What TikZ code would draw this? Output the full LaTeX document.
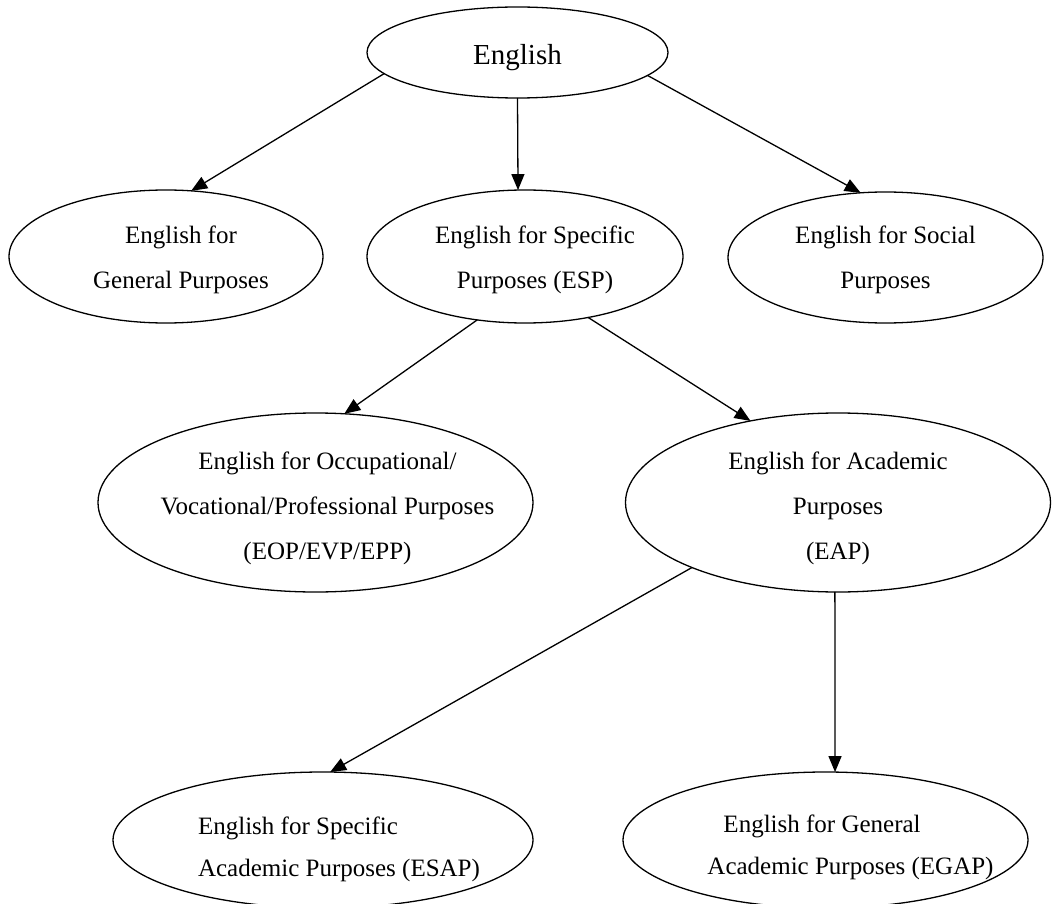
\documentclass[tikz,border=0pt]{standalone}
\usepackage{fontspec}
\setmainfont{Liberation Serif}
\usetikzlibrary{arrows.meta,shapes.geometric}
% #1 column type, #2 horizontal pad (2x shift), #3 raise, #4 lines
\newcommand\inside[4][c]{\makebox[0pt]{\hspace*{#2}\raisebox{#3}[0pt][0pt]{\begin{tabular}{@{}#1@{}}#4\end{tabular}}}}
\begin{document}
\begin{tikzpicture}[x=1pt,y=1pt,line width=1.3pt,
  ell/.style={ellipse,draw,inner sep=0pt,outer sep=0pt,font=\fontsize{25}{45}\selectfont},
  conn/.style={-{Triangle[length=16pt,width=13pt]}}]
\useasboundingbox (0,0) rectangle (1052,-904);
\node[ell,minimum width=301pt,minimum height=91pt,font=\fontsize{29}{34}\selectfont] (eng) at (517.5,-52.5) {\inside{0pt}{-11.5pt}{English}};
\node[ell,minimum width=314pt,minimum height=133pt] (gen) at (166,-256.5) {\inside{30pt}{-7pt}{English for\\General Purposes}};
\node[ell,minimum width=316pt,minimum height=133pt] (esp) at (525,-256.5) {\inside{20pt}{-7pt}{English for Specific\\Purposes (ESP)}};
\node[ell,minimum width=315pt,minimum height=131pt] (soc) at (885.5,-257.5) {\inside{0pt}{-6pt}{English for Social\\Purposes}};
\node[ell,minimum width=435pt,minimum height=179pt] (eop) at (315.5,-502.5) {\inside{24pt}{-9.5pt}{English for Occupational/\\Vocational/Professional Purposes\\(EOP/EVP/EPP)}};
\node[ell,minimum width=425pt,minimum height=179pt] (eap) at (838,-502.5) {\inside{0pt}{-9.5pt}{English for Academic\\Purposes\\(EAP)}};
\node[ell,minimum width=420pt,minimum height=136pt,font=\fontsize{25}{42}\selectfont] (esap) at (323,-840) {\inside[l]{32pt}{-13.5pt}{English for Specific\\Academic Purposes (ESAP)}};
\node[ell,minimum width=405pt,minimum height=136pt,font=\fontsize{25}{42}\selectfont] (egap) at (825.5,-840) {\inside[l]{50pt}{-11pt}{\hspace*{16pt}English for General\\Academic Purposes (EGAP)}};
\draw[conn] (eng.189.5) -- (gen.69.6);
\draw[conn] (eng.270) -- (esp.96);
\draw[conn] (eng.350.6) -- (soc.111);
\draw[conn] (esp.233) -- (eop.72);
\draw[conn] (esp.316) -- (eap.137);
\draw[conn] (eap.204) -- (esap.84);
\draw[conn] (eap.268.5) -- (egap.82);
\end{tikzpicture}
\end{document}
